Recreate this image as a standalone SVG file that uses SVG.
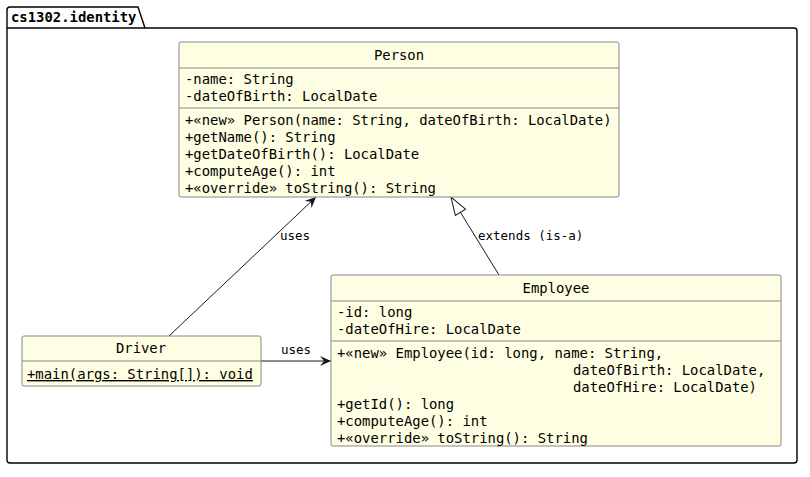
<svg xmlns="http://www.w3.org/2000/svg" width="810" height="477" viewBox="0 0 810 477">
<style>
text{font-family:"DejaVu Sans Mono",monospace;font-size:13.9px;fill:#000}
.lbl{font-size:12.5px}
.box{fill:#fefee2;stroke:#888;stroke-width:1}
.sep{stroke:#888;stroke-width:1}
.c{stroke:#181818;stroke-width:1;fill:none}
</style>
<defs>
<marker id="arr" viewBox="0 0 12 10" refX="11" refY="5" markerWidth="12" markerHeight="10" markerUnits="userSpaceOnUse" orient="auto"><path d="M0,0 L11,5 L0,10 L4,5 Z" fill="#181818"/></marker>
<marker id="tri" viewBox="0 0 20 14" refX="19" refY="7" markerWidth="20" markerHeight="14" markerUnits="userSpaceOnUse" orient="auto"><path d="M1,1 L19,7 L1,13 Z" fill="#fff" stroke="#181818"/></marker>
</defs>
<g id="package">
<path d="M7,28 L7,10 Q7,7 10,7 L138,7 L145,28 L794,28 Q797,28 797,31 L797,460 Q797,463 794,463 L10,463 Q7,463 7,460 Z" fill="none" stroke="#000" stroke-width="1.4"/>
<line x1="7" y1="28" x2="145" y2="28" stroke="#000" stroke-width="1.4"/>
<text x="11" y="22" style="font-weight:bold">cs1302.identity</text>
</g>
<g id="connectors">
<line class="c" x1="169" y1="336" x2="316" y2="197" marker-end="url(#arr)"/>
<text class="lbl" x="280" y="240">uses</text>
<line class="c" x1="499" y1="275" x2="451" y2="197" marker-end="url(#tri)"/>
<text class="lbl" x="478" y="240">extends (is-a)</text>
<line class="c" x1="261" y1="361" x2="331" y2="361" marker-end="url(#arr)"/>
<text class="lbl" x="281" y="354">uses</text>
</g>
<g id="Person">
<rect class="box" x="179" y="42" width="440" height="155" rx="2"/>
<line class="sep" x1="179" y1="68" x2="619" y2="68"/>
<line class="sep" x1="179" y1="108" x2="619" y2="108"/>
<text x="399" y="60" text-anchor="middle">Person</text>
<text x="185" y="84">-name: String</text>
<text x="185" y="101">-dateOfBirth: LocalDate</text>
<text x="185" y="125">+«new» Person(name: String, dateOfBirth: LocalDate)</text>
<text x="185" y="142">+getName(): String</text>
<text x="185" y="159">+getDateOfBirth(): LocalDate</text>
<text x="185" y="176">+computeAge(): int</text>
<text x="185" y="193">+«override» toString(): String</text>
</g>
<g id="Employee">
<rect class="box" x="331" y="275" width="450" height="171" rx="2"/>
<line class="sep" x1="331" y1="301" x2="781" y2="301"/>
<line class="sep" x1="331" y1="341" x2="781" y2="341"/>
<text x="556" y="293" text-anchor="middle">Employee</text>
<text x="337" y="317">-id: long</text>
<text x="337" y="334">-dateOfHire: LocalDate</text>
<text x="337" y="358" xml:space="preserve">+«new» Employee(id: long, name: String,</text>
<text x="573" y="375">dateOfBirth: LocalDate,</text>
<text x="573" y="392">dateOfHire: LocalDate)</text>
<text x="337" y="409">+getId(): long</text>
<text x="337" y="426">+computeAge(): int</text>
<text x="337" y="443">+«override» toString(): String</text>
</g>
<g id="Driver">
<rect class="box" x="22" y="336" width="239" height="50" rx="2"/>
<line class="sep" x1="22" y1="361" x2="261" y2="361"/>
<text x="141" y="353" text-anchor="middle">Driver</text>
<text x="27" y="379" text-decoration="underline">+main(args: String[]): void</text>
</g>
</svg>
